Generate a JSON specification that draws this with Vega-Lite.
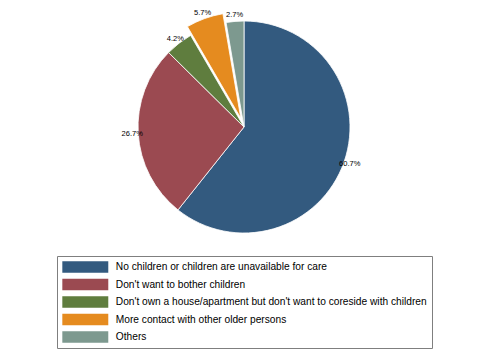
{
  "$schema": "https://vega.github.io/schema/vega-lite/v6.json",
  "width": 488,
  "height": 254,
  "autosize": {"type": "pad"},
  "padding": {"left": 0, "top": 0, "right": 1, "bottom": 10},
  "background": "white",
  "config": {"view": {"stroke": null}},
  "data": {
    "values": [
      {"cat": "No children or children are unavailable for care", "pct": 60.7, "label": "60.7%", "rank": 1},
      {"cat": "Don't want to bother children", "pct": 26.7, "label": "26.7%", "rank": 2},
      {"cat": "Don't own a house/apartment but don't want to coreside with children", "pct": 4.2, "label": "4.2%", "rank": 3},
      {"cat": "More contact with other older persons", "pct": 5.7, "label": "5.7%", "rank": 4},
      {"cat": "Others", "pct": 2.7, "label": "2.7%", "rank": 5}
    ]
  },
  "encoding": {
    "theta": {"field": "pct", "type": "quantitative", "stack": true},
    "order": {"field": "rank", "type": "quantitative"}
  },
  "layer": [
    {
      "mark": {
        "type": "arc",
        "outerRadius": 106,
        "stroke": "white",
        "strokeWidth": 0.8,
        "xOffset": {"expr": "datum.cat === 'More contact with other older persons' ? -3.2 : 0"},
        "yOffset": {"expr": "datum.cat === 'More contact with other older persons' ? -8.8 : 0"}
      },
      "encoding": {
        "color": {
          "field": "cat",
          "type": "nominal",
          "scale": {
            "domain": [
              "No children or children are unavailable for care",
              "Don't want to bother children",
              "Don't own a house/apartment but don't want to coreside with children",
              "More contact with other older persons",
              "Others"
            ],
            "range": ["#335a7f", "#9b4a51", "#5f7d3e", "#e58b1f", "#7d998f"]
          },
          "legend": {
            "orient": "none",
            "legendX": 57,
            "legendY": 256,
            "title": null,
            "direction": "vertical",
            "strokeColor": "#7f7f7f",
            "padding": 5,
            "symbolType": "M-4,-1H4V1H-4Z",
            "symbolSize": 132,
            "symbolOffset": 17.3,
            "symbolStrokeWidth": 0,
            "symbolOpacity": 1,
            "labelOffset": 24.5,
            "rowPadding": 5.5,
            "labelFont": "Liberation Sans",
            "labelFontSize": 10.2,
            "labelColor": "#000000",
            "labelLimit": 0
          }
        }
      }
    },
    {
      "mark": {
        "type": "text",
        "radius": 112,
        "font": "Liberation Sans",
        "fontSize": 7.5,
        "fill": "#000000",
        "xOffset": {"expr": "datum.cat === 'More contact with other older persons' ? -3.2 : 0"},
        "yOffset": {"expr": "datum.cat === 'More contact with other older persons' ? -8.8 : 0"}
      },
      "encoding": {
        "text": {"field": "label", "type": "nominal"},
        "detail": {"field": "cat", "type": "nominal"},
        "color": {"value": "#000000"}
      }
    }
  ]
}
